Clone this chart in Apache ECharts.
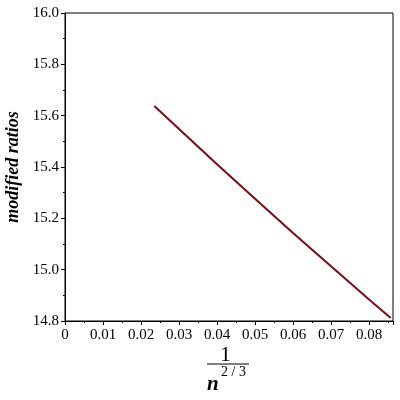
<!DOCTYPE html>
<html>
<head>
<meta charset="utf-8">
<script src="https://cdn.jsdelivr.net/npm/echarts@6/dist/echarts.min.js"></script>
<style>html,body{margin:0;padding:0;background:#fff}#c{width:400px;height:400px}</style>
</head>
<body>
<div id="c"></div>
<script>
var xValues = [0.0235, 0.030, 0.040, 0.050, 0.060, 0.070, 0.080, 0.0857];
var yValues = [15.638, 15.548, 15.411, 15.276, 15.143, 15.013, 14.884, 14.812];
var yTitle = 'modified ratios';
var xTitleNum = '1';
var xTitleBase = 'n';
var xTitleExp = '2 / 3';

var data = xValues.map(function (x, i) { return [x, yValues[i]]; });
var serif = '"Liberation Serif", "DejaVu Serif", serif';

var chart = echarts.init(document.getElementById('c'), null, { renderer: 'canvas' });
chart.setOption({
  animation: false,
  backgroundColor: '#fff',
  grid: { left: 65, right: 7, top: 13, bottom: 79, show: true, borderColor: '#000', borderWidth: 1,
    backgroundColor: 'transparent', containLabel: false, outerBoundsMode: 'none' },
  xAxis: {
    type: 'value', min: 0, max: 0.0863, interval: 0.01,
    axisLine: { show: true, onZero: false, lineStyle: { color: '#000', width: 1 } },
    axisTick: { show: true, inside: false, length: 4, lineStyle: { color: '#000' } },
    minorTick: { show: true, splitNumber: 2, length: 2, lineStyle: { color: '#000' } },
    splitLine: { show: false },
    axisLabel: { color: '#000', fontFamily: serif, fontSize: 15, margin: 7, showMaxLabel: false,
      formatter: function (v) { return v === 0 ? '0' : v.toFixed(2); } }
  },
  yAxis: {
    type: 'value', min: 14.8, max: 16.0, interval: 0.2,
    name: yTitle, nameLocation: 'middle', nameGap: 40, nameRotate: 90,
    nameTextStyle: { fontFamily: serif, fontSize: 18, fontStyle: 'italic', fontWeight: 'bold', color: '#000' },
    axisLine: { show: true, lineStyle: { color: '#000', width: 1 } },
    axisTick: { show: true, inside: false, length: 4, lineStyle: { color: '#000' } },
    minorTick: { show: true, splitNumber: 2, length: 2, lineStyle: { color: '#000' } },
    splitLine: { show: false },
    axisLabel: { color: '#000', fontFamily: serif, fontSize: 15, margin: 6,
      formatter: function (v) { return v.toFixed(1); } }
  },
  series: [{
    type: 'line', data: data, showSymbol: false, smooth: false,
    lineStyle: { color: '#7f0a10', width: 2 }
  }],
  graphic: [
    { type: 'text', left: 220, top: 344, style: { text: xTitleNum, font: '22px ' + serif, fill: '#000' } },
    { type: 'line', shape: { x1: 207, y1: 364, x2: 249, y2: 364 }, style: { stroke: '#000', lineWidth: 1 } },
    { type: 'text', left: 207, top: 374, style: { text: xTitleBase, font: 'italic bold 21px ' + serif, fill: '#000' } },
    { type: 'text', left: 221, top: 365, style: { text: xTitleExp, font: '14px ' + serif, fill: '#000' } }
  ]
});
</script>
</body>
</html>
